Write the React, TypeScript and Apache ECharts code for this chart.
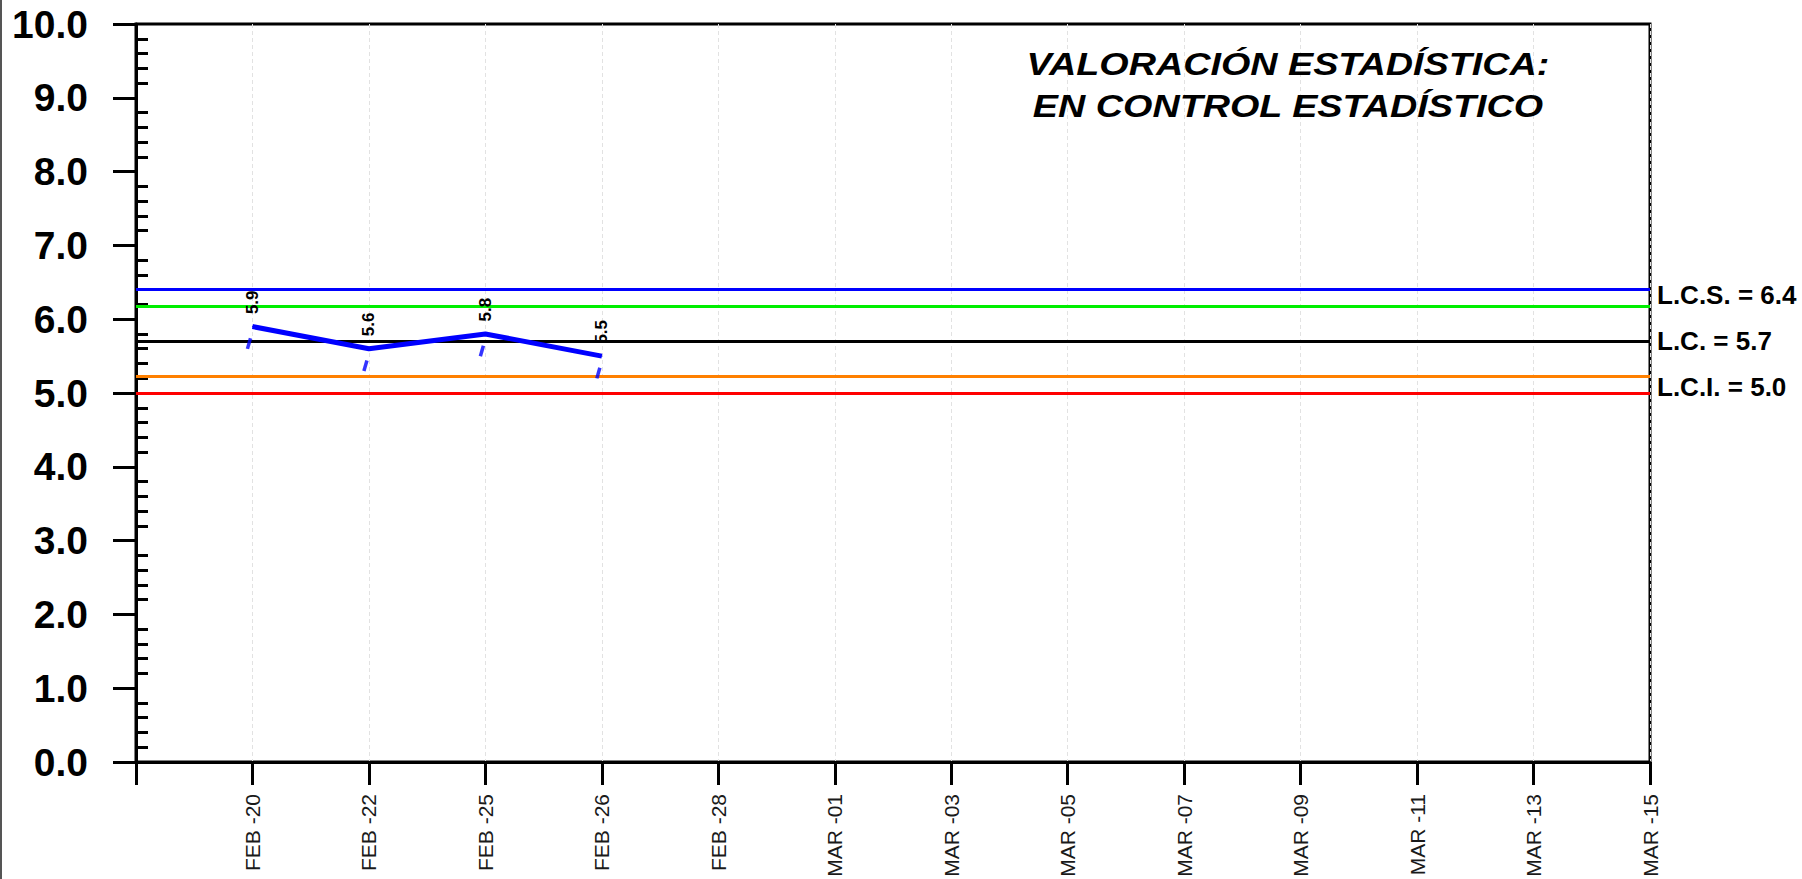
import React, { useEffect, useRef } from "react";
import * as echarts from "echarts";

const categories = [
  "FEB -20", "FEB -22", "FEB -25", "FEB -26", "FEB -28", "MAR -01", "MAR -03",
  "MAR -05", "MAR -07", "MAR -09", "MAR -11", "MAR -13", "MAR -15",
];
const values = [5.9, 5.6, 5.8, 5.5];
const lcs = 6.4;
const lc = 5.7;
const lci = 5.0;
const upperWarn = 6.17;
const lowerWarn = 5.23;
const yTickLabels = [0, 1, 2, 3, 4, 5, 6, 7, 8, 9, 10];
const titleLines = ["VALORACIÓN ESTADÍSTICA:", "EN CONTROL ESTADÍSTICO"];

const FONT = "'Liberation Sans', Arial, sans-serif";

export default function App() {
  const ref = useRef<HTMLDivElement>(null);
  useEffect(() => {
    if (!ref.current) return;
    const chart = echarts.init(ref.current, undefined, { renderer: "svg" });
    const xData = ["", ...categories];
    const lineData = values.map((v, i) => [categories[i], v]);
    const ml = (v: number, color: string, text: string, dy: number) => ({
      yAxis: v,
      lineStyle: { color, width: 3, type: "solid" },
      label: text
        ? {
            show: true,
            position: "end",
            formatter: text,
            distance: 7,
            offset: [0, dy],
            color: "#000",
            fontSize: 26,
            fontWeight: "bold",
            fontFamily: FONT,
          }
        : { show: false },
    });
    chart.setOption({
      animation: false,
      textStyle: { fontFamily: FONT },
      grid: {
        left: 136,
        top: 24,
        right: 152,
        bottom: 117,
        show: true,
        borderColor: "#000",
        borderWidth: 3,
        containLabel: false,
        outerBoundsMode: "none",
      },
      graphic: [
        { type: "rect", shape: { x: 0, y: 0, width: 2, height: 879 }, style: { fill: "#555" } },
        {
          type: "text",
          x: 1288,
          y: 43,
          scaleX: 1.18,
          z: 10,
          style: {
            text: titleLines.join("\n"),
            textAlign: "center",
            fontFamily: FONT,
            fontSize: 32,
            fontWeight: "bold",
            fontStyle: "italic",
            lineHeight: 42,
            fill: "#000",
          },
        },
      ],
      xAxis: {
        type: "category",
        data: xData,
        boundaryGap: false,
        axisLine: { lineStyle: { color: "#000", width: 3 } },
        axisTick: { show: true, length: 23, interval: 0, lineStyle: { color: "#000", width: 3 } },
        axisLabel: {
          interval: 0,
          rotate: 90,
          margin: 32,
          fontSize: 21,
          color: "#1a1a1a",
          fontFamily: FONT,
        },
        splitLine: { show: true, interval: 0, lineStyle: { color: "#e2e2e2", type: [4, 3], width: 1 } },
      },
      yAxis: [
        {
          type: "value",
          min: 0,
          max: 10,
          interval: 1,
          position: "left",
          axisLine: { show: true, lineStyle: { color: "#000", width: 3 } },
          axisTick: { show: true, length: 23, lineStyle: { color: "#000", width: 3 } },
          axisLabel: {
            formatter: (v: number) => (yTickLabels.includes(v) ? v.toFixed(1) : ""),
            fontSize: 39,
            fontWeight: "bold",
            color: "#000",
            margin: 48,
            fontFamily: FONT,
          },
          splitLine: { show: false },
        },
        {
          type: "value",
          min: 0,
          max: 10,
          interval: 1,
          position: "left",
          offset: 0,
          axisLine: { show: false },
          axisTick: { show: false, inside: true },
          minorTick: { show: true, splitNumber: 5, length: 12, lineStyle: { color: "#000", width: 3 } },
          axisLabel: { show: false },
          splitLine: { show: false },
        },
      ],
      series: [
        {
          type: "line",
          data: lineData,
          symbol: "circle",
          symbolSize: 1,
          showSymbol: true,
          itemStyle: { color: "#0000ff" },
          lineStyle: { color: "#0000ff", width: 5 },
          z: 5,
          label: {
            show: true,
            position: "top",
            rotate: 90,
            align: "left",
            verticalAlign: "middle",
            distance: 12,
            fontSize: 17,
            fontWeight: "bold",
            color: "#000",
            fontFamily: FONT,
            formatter: (p: any) => p.value[1].toFixed(1),
          },
          markLine: {
            silent: true,
            symbol: "none",
            z: 3,
            data: [
              ml(lcs, "#0000ff", `L.C.S. = ${lcs.toFixed(1)}`, 5),
              ml(upperWarn, "#00ee00", "", 0),
              ml(lc, "#000000", `L.C. = ${lc.toFixed(1)}`, 0),
              ml(lowerWarn, "#ff8000", "", 0),
              ml(lci, "#ff0000", `L.C.I. = ${lci.toFixed(1)}`, -6),
            ],
          },
        },
        {
          type: "scatter",
          data: lineData,
          symbol: "rect",
          symbolSize: [3.5, 11],
          symbolRotate: -16,
          symbolOffset: [-3.5, 17],
          itemStyle: { color: "#0000ff" },
          z: 4,
        },
      ],
    });
    return () => chart.dispose();
  }, []);
  return (
    <div
      ref={ref}
      style={{ position: "absolute", left: 0, top: 0, width: 1802, height: 879, background: "#fff" }}
    />
  );
}
